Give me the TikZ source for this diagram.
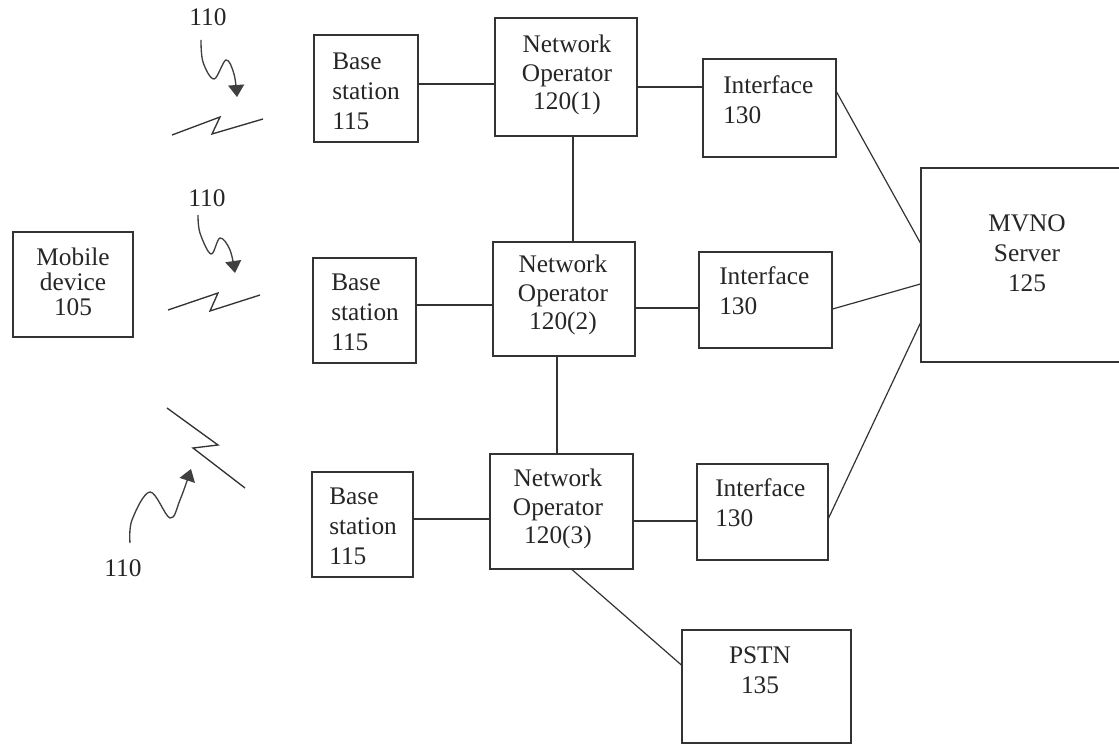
\documentclass[tikz,border=0pt]{standalone}
\usepackage{fontspec}
\setmainfont{Liberation Serif}
\usetikzlibrary{arrows.meta,calc}
\begin{document}
\begin{tikzpicture}[x=0.75pt,y=-0.75pt,
  box/.style={draw=black!80,line width=0.9pt,rectangle,inner sep=0pt},
  wire/.style={draw=black!80,line width=0.9pt},
  txt/.style={text=black!85,inner sep=0pt,font=\fontsize{19}{22.5}\selectfont},
  txtl/.style={txt,align=left,anchor=west},
  txtc/.style={txt,align=center},
  bolt/.style={draw=black!80,line width=1pt,line join=miter},
  squig/.style={draw=black!75,line width=1pt,
    -{Triangle[length=9pt,width=12pt]}}]
\useasboundingbox (0,0) rectangle (1119,745);
\clip (0,0) rectangle (1119,745);
\fill[white] (0,0) rectangle (1119,745);

% ---- boxes (sizes given in pixel units of 0.75pt)
\node[box,minimum width=0.75*120,minimum height=0.75*105] (mob)  at (73,284.5) {};
\node[box,minimum width=0.75*104,minimum height=0.75*107] (bs1)  at (366,88.5) {};
\node[box,minimum width=0.75*142,minimum height=0.75*118] (no1)  at (566,77) {};
\node[box,minimum width=0.75*133,minimum height=0.75*98]  (if1)  at (769.5,108) {};
\node[box,minimum width=0.75*208,minimum height=0.75*194] (mvno) at (1025,265) {};
\node[box,minimum width=0.75*103,minimum height=0.75*105] (bs2)  at (364.5,310.5) {};
\node[box,minimum width=0.75*142,minimum height=0.75*114] (no2)  at (564,299) {};
\node[box,minimum width=0.75*133,minimum height=0.75*96]  (if2)  at (765.5,300) {};
\node[box,minimum width=0.75*101,minimum height=0.75*105] (bs3)  at (362.5,524.5) {};
\node[box,minimum width=0.75*143,minimum height=0.75*115] (no3)  at (561.5,511.5) {};
\node[box,minimum width=0.75*131,minimum height=0.75*96]  (if3)  at (762.5,512) {};
\node[box,minimum width=0.75*169,minimum height=0.75*113] (pstn) at (766.5,686.5) {};

% ---- box texts
\node[txtc,font=\fontsize{19}{18.5}\selectfont] (tmob) at (73,282) {Mobile\\device\\105};
\node[txtl] (tbs1) at (332,91) {Base\\station\\115};
\node[txtl] (tbs2) at (331,312) {Base\\station\\115};
\node[txtl] (tbs3) at (329,526) {Base\\station\\115};
\node[txtc,font=\fontsize{19}{21.5}\selectfont] (tno1) at (567,75) {Network\\Operator\\120(1)};
\node[txtc,font=\fontsize{19}{21.5}\selectfont] (tno2) at (563,295) {Network\\Operator\\120(2)};
\node[txtc,font=\fontsize{19}{21.5}\selectfont] (tno3) at (558,509) {Network\\Operator\\120(3)};
\node[txtl] (tif1) at (723,100) {Interface\\130};
\node[txtl] (tif2) at (719,291) {Interface\\130};
\node[txtl] (tif3) at (715,503) {Interface\\130};
\node[txtc] (tmvno) at (1027,253) {MVNO\\Server\\125};
\node[txtc] (tpstn) at (760,670) {PSTN\\135};

% ---- reference numerals for the radio links
\node[txt] (l1) at (208,17) {110};
\node[txt] (l2) at (207,198) {110};
\node[txt] (l3) at (123,568) {110};

% ---- connectors
\draw[wire] (bs1.east |- 0,84) -- (no1.west |- 0,84);
\draw[wire] (no1.east |- 0,87) -- (if1.west |- 0,87);
\draw[wire] (if1.east |- 0,92) -- (mvno.west |- 0,243);
\draw[wire] (no1.south -| 573,0) -- (no2.north -| 573,0);
\draw[wire] (bs2.east |- 0,305) -- (no2.west |- 0,305);
\draw[wire] (no2.east |- 0,308) -- (if2.west |- 0,308);
\draw[wire] (if2.east |- 0,309) -- (mvno.west |- 0,284);
\draw[wire] (no2.south -| 557,0) -- (no3.north -| 557,0);
\draw[wire] (bs3.east |- 0,519) -- (no3.west |- 0,519);
\draw[wire] (no3.east |- 0,521) -- (if3.west |- 0,521);
\draw[wire] (if3.east |- 0,518) -- (mvno.west |- 0,323);
\draw[wire] (no3.south -| 572,0) -- (pstn.west |- 0,665);

% ---- radio links (lightning symbols)
\draw[bolt] (172,135) -- (220,117) -- (212,134) -- (263,119);
\draw[bolt] (168,310) -- (218,293) -- (210,311) -- (260,295);
\draw[bolt] (167,408) -- (218,445) -- (193,448) -- (245,488);

% ---- wavy leader arrows
\draw[squig] plot[smooth,tension=0.6] coordinates
  {(201,40) (203,62) (214,79) (226,60) (234,74) (237,97)};
\draw[squig] plot[smooth,tension=0.6] coordinates
  {(198,215) (200,233) (211,254) (220,238) (230,250) (235,273)};
\draw[squig] plot[smooth,tension=0.6] coordinates
  {(130,543) (132,520) (150,492) (170,518) (180,500) (191,469)};
\end{tikzpicture}
\end{document}
